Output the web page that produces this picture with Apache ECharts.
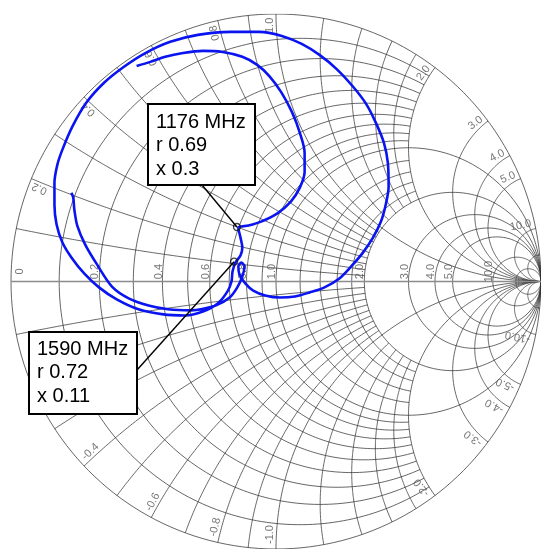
<!DOCTYPE html>
<html>
<head>
<meta charset="utf-8">
<script src="https://cdn.jsdelivr.net/npm/echarts/dist/echarts.min.js"></script>
<style>
  html, body { margin: 0; padding: 0; background: #fff; }
  #chart { width: 541px; height: 549px; }
</style>
</head>
<body>
<div id="chart"></div>
<script>
// smith grid values
var resistFine = [0.1, 0.2, 0.3, 0.4, 0.5, 0.6, 0.7, 0.8, 0.9];   // up to |x| = 2
var resistMid = [1.2, 1.4, 1.6, 1.8];                           // up to |x| = 2
var resistFull = [0, 1, 2, 3, 4, 5, 10, 20];
var reactFine = [0.1, 0.2, 0.3, 0.4, 0.5, 0.6, 0.7, 0.8, 0.9];   // up to r = 2
var reactMid = [1.2, 1.4, 1.6, 1.8];                            // up to r = 2
var reactFull = [1, 2, 3, 4, 5, 10, 20];

// tick labels
var realLabels = [0, 0.2, 0.4, 0.6, 0.8, 1, 2, 3, 4, 5, 10];
var rimLabels = [0.2, 0.4, 0.6, 0.8, 1, 2, 3, 4, 5, 10, -0.2, -0.4, -0.6, -0.8, -1, -2, -3, -4, -5, -10];

var traceRe = [-0.526, -0.474, -0.418, -0.351, -0.276, -0.201, -0.127, -0.071, -0.026, 0.019,
  0.060, 0.090, 0.108, 0.108, 0.090, 0.056, 0.004, -0.056, -0.104, -0.142,
  -0.134, -0.127, -0.134, -0.153, -0.164, -0.168, -0.183, -0.220, -0.276, -0.343,
  -0.425, -0.519, -0.601, -0.668, -0.724, -0.772, -0.806, -0.828, -0.836, -0.836,
  -0.825, -0.806, -0.769, -0.716, -0.649, -0.575, -0.493, -0.399, -0.295, -0.172,
  -0.063, 0.022, 0.097, 0.164, 0.228, 0.291, 0.340, 0.377, 0.407, 0.422,
  0.425, 0.414, 0.396, 0.366, 0.328, 0.287, 0.239, 0.183, 0.127, 0.071,
  0.015, -0.041, -0.086, -0.116, -0.138, -0.142, -0.131, -0.119, -0.127, -0.146,
  -0.175, -0.228, -0.321, -0.407, -0.481, -0.556, -0.619, -0.675, -0.720, -0.750,
  -0.761, -0.765, -0.772];
var traceIm = [0.806, 0.821, 0.840, 0.854, 0.862, 0.858, 0.840, 0.810, 0.769, 0.709,
  0.634, 0.556, 0.481, 0.410, 0.351, 0.299, 0.254, 0.224, 0.209, 0.201,
  0.164, 0.127, 0.097, 0.071, 0.037, 0.000, -0.037, -0.082, -0.112, -0.127,
  -0.123, -0.104, -0.067, -0.022, 0.030, 0.090, 0.146, 0.213, 0.287, 0.369,
  0.437, 0.493, 0.578, 0.668, 0.743, 0.802, 0.854, 0.896, 0.922, 0.933,
  0.933, 0.918, 0.888, 0.847, 0.795, 0.728, 0.664, 0.593, 0.519, 0.444,
  0.354, 0.287, 0.224, 0.164, 0.108, 0.060, 0.011, -0.022, -0.041, -0.056,
  -0.060, -0.052, -0.034, -0.007, 0.026, 0.056, 0.071, 0.056, 0.019, -0.022,
  -0.060, -0.090, -0.108, -0.104, -0.090, -0.063, -0.019, 0.063, 0.138, 0.209,
  0.269, 0.313, 0.332];

// markers
var markFreq = ['1176 MHz', '1590 MHz'];
var markR = [0.69, 0.72];
var markX = [0.3, 0.11];

// z -> gamma
function gam(r, x) {
    var a = r - 1, c = r + 1;
    var den = c * c + x * x;
    return [(a * c + x * x) / den, (x * c - a * x) / den];
}

function rCircle(r, lim) {
    var cx = r / (r + 1), rad = 1 / (r + 1);
    var a0 = 0, a1 = 2 * Math.PI;
    if (isFinite(lim)) {
        var p = gam(r, lim);
        a0 = Math.atan2(p[1], p[0] - cx);
        a1 = 2 * Math.PI - a0;
    }
    var pts = [];
    for (var i = 0; i <= 200; i++) {
        var a = a0 + (a1 - a0) * i / 200;
        pts.push([cx + rad * Math.cos(a), rad * Math.sin(a)]);
    }
    return pts;
}

function xArc(x, lim) {
    var cy = 1 / x, rad = Math.abs(1 / x);
    var p0 = gam(0, x);
    var p1 = isFinite(lim) ? gam(lim, x) : [1, 0];
    var a0 = Math.atan2(p0[1] - cy, p0[0] - 1);
    var a1 = Math.atan2(p1[1] - cy, p1[0] - 1);
    var d = a1 - a0;
    while (d > Math.PI) d -= 2 * Math.PI;
    while (d <= -Math.PI) d += 2 * Math.PI;
    var pts = [];
    for (var i = 0; i <= 160; i++) {
        var a = a0 + d * i / 160;
        pts.push([1 + rad * Math.cos(a), cy + rad * Math.sin(a)]);
    }
    return pts;
}

var gridLines = [];
resistFine.forEach(function (r) { gridLines.push({ coords: rCircle(r, 2) }); });
resistMid.forEach(function (r) { gridLines.push({ coords: rCircle(r, 2) }); });
resistFull.forEach(function (r) { gridLines.push({ coords: rCircle(r, Infinity) }); });
reactFine.forEach(function (x) {
    gridLines.push({ coords: xArc(x, 2) });
    gridLines.push({ coords: xArc(-x, 2) });
});
reactMid.forEach(function (x) {
    gridLines.push({ coords: xArc(x, 2) });
    gridLines.push({ coords: xArc(-x, 2) });
});
reactFull.forEach(function (x) {
    gridLines.push({ coords: xArc(x, Infinity) });
    gridLines.push({ coords: xArc(-x, Infinity) });
});

var R = 268; // px per unit of gamma
function fmt(v) { return v === 0 ? '0' : v.toFixed(1); }

var labelData = [];
realLabels.forEach(function (r) {
    var g = gam(r, 0)[0];
    var dx = r === 0 ? 9 : -4;
    labelData.push({ value: [g + dx / R, 10 / R], name: fmt(r), label: { rotate: 90 } });
});
rimLabels.forEach(function (x) {
    var p = gam(0, x);
    var th = Math.atan2(p[1], p[0]);
    var txt = fmt(x);
    var half = txt.length * 3.1;
    var rc = 1 - (half + 2) / R;
    var off = 6 / (R * rc);
    var a = x > 0 ? th + off : th - off;
    var deg = th * 180 / Math.PI;
    labelData.push({
        value: [rc * Math.cos(a), rc * Math.sin(a)], name: txt,
        label: { rotate: x > 0 ? deg : deg + 180 }
    });
});

var trace = traceRe.map(function (v, i) { return [v, traceIm[i]]; });
var marks = markR.map(function (r, i) { return gam(r, markX[i]); });

var chart = echarts.init(document.getElementById('chart'));
chart.setOption({
    animation: false,
    grid: { left: 11, top: 14, width: 536, height: 536 },
    xAxis: { type: 'value', min: -1, max: 1, show: false },
    yAxis: { type: 'value', min: -1, max: 1, show: false },
    series: [
        {
            type: 'lines', coordinateSystem: 'cartesian2d', polyline: true, silent: true,
            lineStyle: { color: '#333', width: 0.75, opacity: 1 },
            data: gridLines, z: 1
        },
        {
            type: 'lines', coordinateSystem: 'cartesian2d', polyline: true, silent: true,
            lineStyle: { color: '#8c8c8c', width: 1.6, opacity: 1 },
            data: [{ coords: [[-1, 0], [1, 0]] }], z: 2
        },
        {
            type: 'scatter', silent: true, symbolSize: 1,
            itemStyle: { color: 'rgba(0,0,0,0)' },
            label: {
                show: true, position: 'inside', formatter: '{b}',
                color: '#555', fontSize: 11, fontFamily: 'Liberation Sans'
            },
            data: labelData, z: 3
        },
        {
            type: 'line', data: trace, showSymbol: false, smooth: 0.3, silent: true,
            lineStyle: { color: '#0a14f0', width: 2.6 }, z: 4
        },
        {
            type: 'scatter', data: marks, symbol: 'circle', symbolSize: 7, silent: true,
            itemStyle: { color: 'rgba(0,0,0,0)', borderColor: '#111', borderWidth: 1.3 }, z: 6
        }
    ]
});

// annotation boxes
var boxes = [
    { x: 148, y: 104, w: 107, h: 81, tx: 156, ty: 122, ax: 202, ay: 185 },
    { x: 29, y: 332, w: 108, h: 82, tx: 37, ty: 349, ax: 137, ay: 370 }
];
var gfx = [];
boxes.forEach(function (b, i) {
    var p = chart.convertToPixel({ gridIndex: 0 }, marks[i]);
    gfx.push({ type: 'line', z: 50, shape: { x1: b.ax, y1: b.ay, x2: p[0], y2: p[1] },
        style: { stroke: '#000', lineWidth: 1.4 } });
    gfx.push({ type: 'rect', z: 51, shape: { x: b.x, y: b.y, width: b.w, height: b.h },
        style: { fill: '#fff', stroke: '#000', lineWidth: 2 } });
    var lines = [markFreq[i], 'r ' + markR[i], 'x ' + markX[i]];
    lines.forEach(function (t, k) {
        gfx.push({ type: 'text', z: 52,
            style: { text: t, x: b.tx, y: b.ty + k * 23.5, fill: '#000',
                font: '20px "Liberation Sans"', verticalAlign: 'middle' } });
    });
});
chart.setOption({ graphic: gfx });
</script>
</body>
</html>
